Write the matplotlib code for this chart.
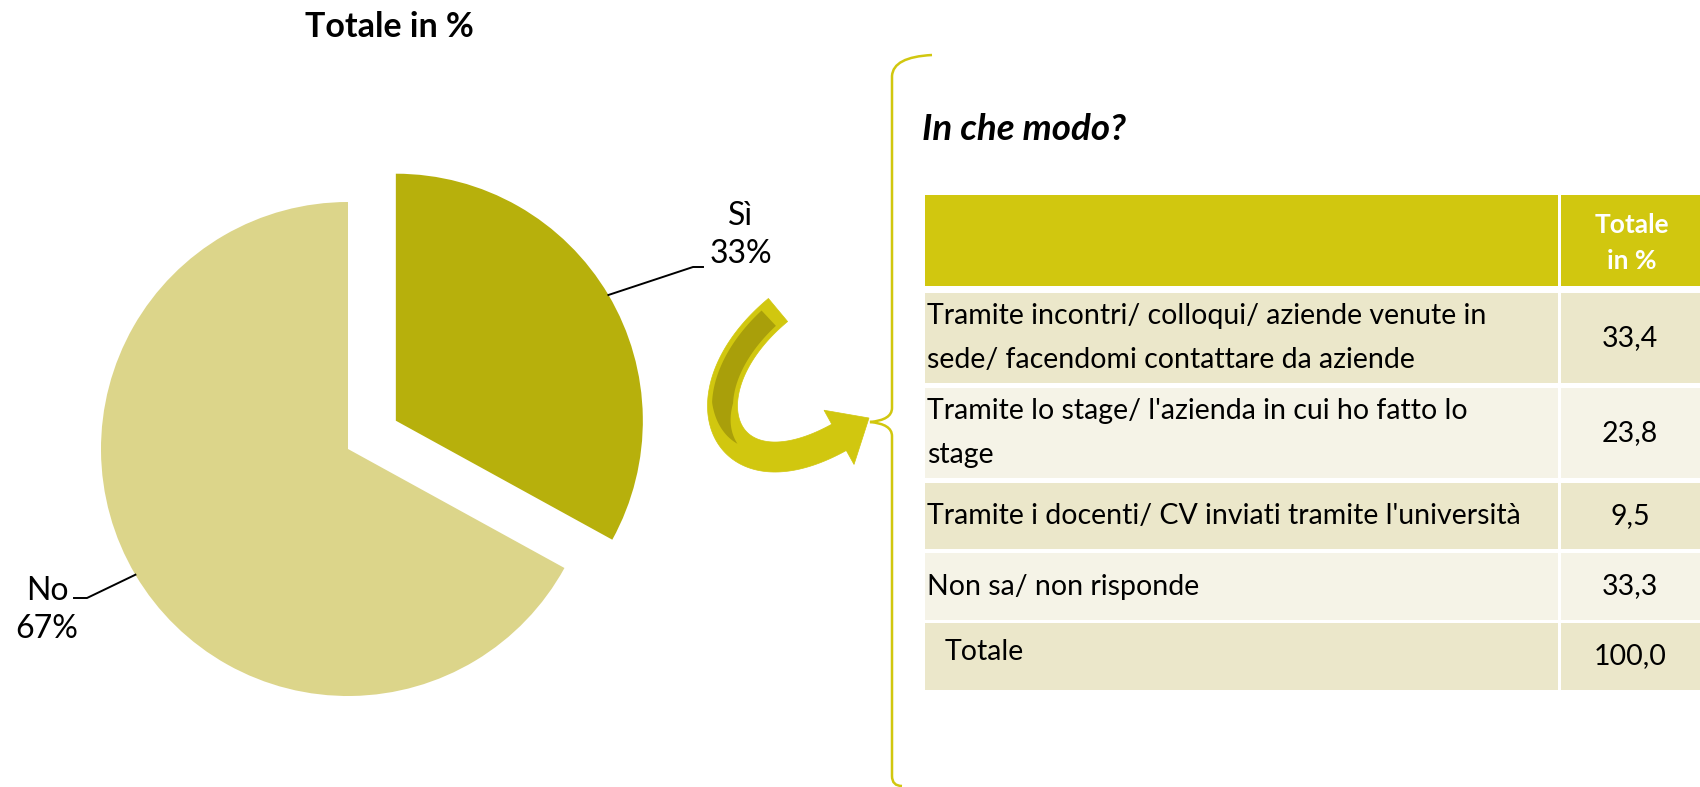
import numpy as np
import matplotlib.pyplot as plt
from matplotlib.patches import Rectangle, Polygon, PathPatch
from matplotlib.path import Path

# pie data
pie_labels = ['Sì', 'No']
pie_values = [33, 67]
pie_colors = ['#B7B00C', '#DCD58A']

# table data
table_title = 'In che modo?'
col_header = 'Totale\nin %'
row_labels = ["Tramite incontri/ colloqui/ aziende venute in\nsede/ facendomi contattare da aziende",
              "Tramite lo stage/ l'azienda in cui ho fatto lo\nstage",
              "Tramite i docenti/ CV inviati tramite l'università",
              "Non sa/ non risponde",
              "Totale"]
row_values = [33.4, 23.8, 9.5, 33.3, 100.0]

yellow = '#D1C70F'
row_colors = ['#EBE7CA', '#F5F3E7']

plt.rcParams['font.family'] = ['Lato', 'DejaVu Sans']

fig = plt.figure(figsize=(17, 7.87), dpi=100)
ax = fig.add_axes([0, 0, 1, 1])

# pie, drawn in pixel coords (y goes down)
cx, cy, r = 348, 449, 247
wedges, _ = ax.pie(pie_values, colors=pie_colors, startangle=-90, counterclock=True,
                   explode=[0.225 * r, 0], center=(cx, cy), radius=r,
                   wedgeprops=dict(linewidth=0))
ax.set_xlim(0, 1700)
ax.set_ylim(787, 0)
ax.axis('off')

ax.text(389, 27, 'Totale in %', ha='center', va='center', fontsize=24.5, fontweight='bold')

# leader lines + labels
label_pos = [((693, 267), (703, 267), (741, 235)), ((87, 598), (74, 598), (47, 610))]
for w, lab, val, (elbow, end, tpos) in zip(wedges, pie_labels, pie_values, label_pos):
    th = np.deg2rad((w.theta1 + w.theta2) / 2)
    x0 = w.center[0] + w.r * np.cos(th)
    y0 = w.center[1] + w.r * np.sin(th)
    ax.plot([x0, elbow[0], end[0]], [y0, elbow[1], end[1]], color='black', lw=1.4)
    ax.text(tpos[0], tpos[1], f'{lab}\n{val}%', ha='center', va='center',
            fontsize=23, linespacing=1.35)

# curved arrow
P = np.array([[778, 310], [670, 400], [730, 520], [869, 418]], dtype=float)


def bez(t):
    t = np.asarray(t)[:, None]
    return ((1 - t) ** 3 * P[0] + 3 * (1 - t) ** 2 * t * P[1]
            + 3 * (1 - t) * t ** 2 * P[2] + t ** 3 * P[3])


def bez_d(t):
    t = np.asarray(t)[:, None]
    return (3 * (1 - t) ** 2 * (P[1] - P[0]) + 6 * (1 - t) * t * (P[2] - P[1])
            + 3 * t ** 2 * (P[3] - P[2]))


tt = np.linspace(0, 1, 400)
pts = bez(tt)
dist = np.hypot(*(pts - P[3]).T)
t_base = tt[np.argmin(np.abs(dist - 36))]


def band(t0, t1, widths):
    t = np.linspace(t0, t1, 120)
    p = bez(t)
    d = bez_d(t)
    n = np.stack([-d[:, 1], d[:, 0]], axis=1)
    n /= np.linalg.norm(n, axis=1)[:, None]
    w = np.asarray(widths)[:, None] if np.ndim(widths) else widths
    left = p + n * w / 2
    right = p - n * w / 2
    return np.vstack([left, right[::-1]])


ax.add_patch(Polygon(band(0, t_base + 0.01, 30), closed=True, fc=yellow, ec=yellow, lw=0.5))
pb = bez([t_base])[0]
db = bez_d([t_base])[0]
nb = np.array([-db[1], db[0]]) / np.linalg.norm(db)
ax.add_patch(Polygon([pb + nb * 31, P[3], pb - nb * 31], closed=True, fc=yellow, ec=yellow, lw=0.5))
tw = np.linspace(0, 1, 120)
wdark = np.where(tw < 0.6, 21, 21 * (1 - (tw - 0.6) / 0.4))
ax.add_patch(Polygon(band(0.03, 0.55, wdark), closed=True, fc='#A99F0A', ec='none'))

# bracket
verts = [(932, 55), (893, 57), (892, 76),
         (892, 408), (892, 420), (870, 422),
         (892, 424), (892, 436),
         (892, 776), (892, 786), (902, 786)]
codes = [Path.MOVETO, Path.CURVE3, Path.CURVE3,
         Path.LINETO, Path.CURVE3, Path.CURVE3,
         Path.CURVE3, Path.CURVE3,
         Path.LINETO, Path.CURVE3, Path.CURVE3]
ax.add_patch(PathPatch(Path(verts, codes), fc='none', ec=yellow, lw=1.8))

ax.text(922, 130, table_title, ha='left', va='center', fontsize=26.5,
        fontweight='bold', fontstyle='italic')

# table
x_left, x_split, x_right = 925, 1558, 1700
gap = 3
header_rows = (195, 286)
row_bounds = [(293, 383), (388, 478), (483, 549), (553, 620), (623, 690)]

ax.add_patch(Rectangle((x_left, header_rows[0]), x_split - x_left, header_rows[1] - header_rows[0],
                       fc=yellow, ec='none'))
ax.add_patch(Rectangle((x_split + gap, header_rows[0]), x_right - x_split - gap,
                       header_rows[1] - header_rows[0], fc=yellow, ec='none'))
ax.text(1632, 243, col_header, ha='center', va='center', color='white',
        fontsize=19, fontweight='bold', linespacing=1.6)

for i, ((y0, y1), lab, val) in enumerate(zip(row_bounds, row_labels, row_values)):
    c = row_colors[i % 2]
    ax.add_patch(Rectangle((x_left, y0), x_split - x_left, y1 - y0, fc=c, ec='none'))
    ax.add_patch(Rectangle((x_split + gap, y0), x_right - x_split - gap, y1 - y0, fc=c, ec='none'))
    yc = (y0 + y1) / 2
    last = i == len(row_labels) - 1
    ax.text(x_left + (20 if last else 2), yc - (4 if last else 0), lab, ha='left', va='center',
            fontsize=20.5, linespacing=1.85)
    ax.text(1630, yc, f'{val:.1f}'.replace('.', ','), ha='center', va='center', fontsize=20.5)

fig.savefig('out.png', dpi=100)
